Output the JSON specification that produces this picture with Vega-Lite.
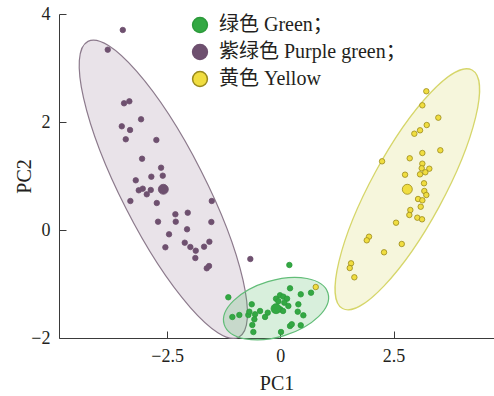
{
  "$schema": "https://vega.github.io/schema/vega-lite/v6.json",
  "width": 435,
  "height": 324,
  "autosize": {"type": "none"},
  "padding": {"left": 59, "top": 14, "right": 0, "bottom": 58},
  "background": "white",
  "config": {
    "view": {"stroke": null},
    "axis": {
      "labelFont": "Liberation Serif",
      "titleFont": "Liberation Serif",
      "labelFontSize": 18,
      "titleFontSize": 20,
      "titleFontWeight": "normal",
      "labelColor": "#231f20",
      "titleColor": "#231f20",
      "domainColor": "#3a3a3a",
      "tickColor": "#3a3a3a",
      "grid": false,
      "tickSize": -7
    },
    "legend": {
      "labelFont": "Liberation Serif, Noto Sans CJK SC",
      "labelFontSize": 20,
      "labelColor": "#231f20",
      "labelLimit": 0
    }
  },
  "data": {
    "values": [
      {"group": "紫绿色 Purple green；", "kind": "sample", "PC1": -3.481, "PC2": 3.704},
      {"group": "紫绿色 Purple green；", "kind": "sample", "PC1": -3.813, "PC2": 3.339},
      {"group": "紫绿色 Purple green；", "kind": "sample", "PC1": -3.453, "PC2": 2.346},
      {"group": "紫绿色 Purple green；", "kind": "sample", "PC1": -3.336, "PC2": 2.383},
      {"group": "紫绿色 Purple green；", "kind": "sample", "PC1": -3.077, "PC2": 2.050},
      {"group": "紫绿色 Purple green；", "kind": "sample", "PC1": -3.503, "PC2": 1.920},
      {"group": "紫绿色 Purple green；", "kind": "sample", "PC1": -3.320, "PC2": 1.852},
      {"group": "紫绿色 Purple green；", "kind": "sample", "PC1": -3.415, "PC2": 1.680},
      {"group": "紫绿色 Purple green；", "kind": "sample", "PC1": -2.739, "PC2": 1.667},
      {"group": "紫绿色 Purple green；", "kind": "sample", "PC1": -3.055, "PC2": 1.320},
      {"group": "紫绿色 Purple green；", "kind": "sample", "PC1": -2.635, "PC2": 1.154},
      {"group": "紫绿色 Purple green；", "kind": "sample", "PC1": -2.598, "PC2": 1.006},
      {"group": "紫绿色 Purple green；", "kind": "sample", "PC1": -2.850, "PC2": 0.987},
      {"group": "紫绿色 Purple green；", "kind": "sample", "PC1": -3.194, "PC2": 0.920},
      {"group": "紫绿色 Purple green；", "kind": "sample", "PC1": -3.128, "PC2": 0.735},
      {"group": "紫绿色 Purple green；", "kind": "sample", "PC1": -3.040, "PC2": 0.765},
      {"group": "紫绿色 Purple green；", "kind": "sample", "PC1": -2.863, "PC2": 0.741},
      {"group": "紫绿色 Purple green；", "kind": "sample", "PC1": -2.951, "PC2": 0.661},
      {"group": "紫绿色 Purple green；", "kind": "sample", "PC1": -3.313, "PC2": 0.537},
      {"group": "紫绿色 Purple green；", "kind": "sample", "PC1": -2.730, "PC2": 0.500},
      {"group": "紫绿色 Purple green；", "kind": "sample", "PC1": -1.515, "PC2": 0.537},
      {"group": "紫绿色 Purple green；", "kind": "sample", "PC1": -2.319, "PC2": 0.291},
      {"group": "紫绿色 Purple green；", "kind": "sample", "PC1": -2.046, "PC2": 0.320},
      {"group": "紫绿色 Purple green；", "kind": "sample", "PC1": -2.702, "PC2": 0.154},
      {"group": "紫绿色 Purple green；", "kind": "sample", "PC1": -2.311, "PC2": 0.154},
      {"group": "紫绿色 Purple green；", "kind": "sample", "PC1": -1.524, "PC2": 0.148},
      {"group": "紫绿色 Purple green；", "kind": "sample", "PC1": -2.061, "PC2": 0.013},
      {"group": "紫绿色 Purple green；", "kind": "sample", "PC1": -2.459, "PC2": -0.080},
      {"group": "紫绿色 Purple green；", "kind": "sample", "PC1": -2.540, "PC2": -0.320},
      {"group": "紫绿色 Purple green；", "kind": "sample", "PC1": -2.112, "PC2": -0.235},
      {"group": "紫绿色 Purple green；", "kind": "sample", "PC1": -1.988, "PC2": -0.315},
      {"group": "紫绿色 Purple green；", "kind": "sample", "PC1": -1.869, "PC2": -0.383},
      {"group": "紫绿色 Purple green；", "kind": "sample", "PC1": -1.685, "PC2": -0.309},
      {"group": "紫绿色 Purple green；", "kind": "sample", "PC1": -1.568, "PC2": -0.217},
      {"group": "紫绿色 Purple green；", "kind": "sample", "PC1": -1.878, "PC2": -0.519},
      {"group": "紫绿色 Purple green；", "kind": "sample", "PC1": -1.626, "PC2": -0.709},
      {"group": "紫绿色 Purple green；", "kind": "sample", "PC1": -1.575, "PC2": -0.667},
      {"group": "紫绿色 Purple green；", "kind": "sample", "PC1": -0.663, "PC2": -0.537},
      {"group": "紫绿色 Purple green；", "kind": "centroid", "PC1": -2.585, "PC2": 0.754},

      {"group": "绿色 Green；", "kind": "sample", "PC1": 0.199, "PC2": -0.648},
      {"group": "绿色 Green；", "kind": "sample", "PC1": -1.149, "PC2": -1.246},
      {"group": "绿色 Green；", "kind": "sample", "PC1": 0.214, "PC2": -1.080},
      {"group": "绿色 Green；", "kind": "sample", "PC1": 0.678, "PC2": -1.161},
      {"group": "绿色 Green；", "kind": "sample", "PC1": 0.451, "PC2": -1.191},
      {"group": "绿色 Green；", "kind": "sample", "PC1": -0.095, "PC2": -1.272},
      {"group": "绿色 Green；", "kind": "sample", "PC1": -0.007, "PC2": -1.209},
      {"group": "绿色 Green；", "kind": "sample", "PC1": 0.066, "PC2": -1.235},
      {"group": "绿色 Green；", "kind": "sample", "PC1": 0.148, "PC2": -1.272},
      {"group": "绿色 Green；", "kind": "sample", "PC1": -0.044, "PC2": -1.320},
      {"group": "绿色 Green；", "kind": "sample", "PC1": 0.088, "PC2": -1.346},
      {"group": "绿色 Green；", "kind": "sample", "PC1": 0.177, "PC2": -1.407},
      {"group": "绿色 Green；", "kind": "sample", "PC1": 0.398, "PC2": -1.376},
      {"group": "绿色 Green；", "kind": "sample", "PC1": 0.384, "PC2": -1.513},
      {"group": "绿色 Green；", "kind": "sample", "PC1": -0.632, "PC2": -1.376},
      {"group": "绿色 Green；", "kind": "sample", "PC1": -1.060, "PC2": -1.611},
      {"group": "绿色 Green；", "kind": "sample", "PC1": -0.906, "PC2": -1.574},
      {"group": "绿色 Green；", "kind": "sample", "PC1": -0.707, "PC2": -1.574},
      {"group": "绿色 Green；", "kind": "sample", "PC1": -0.685, "PC2": -1.513},
      {"group": "绿色 Green；", "kind": "sample", "PC1": -0.559, "PC2": -1.561},
      {"group": "绿色 Green；", "kind": "sample", "PC1": -0.448, "PC2": -1.500},
      {"group": "绿色 Green；", "kind": "sample", "PC1": -0.278, "PC2": -1.531},
      {"group": "绿色 Green；", "kind": "sample", "PC1": -0.338, "PC2": -1.611},
      {"group": "绿色 Green；", "kind": "sample", "PC1": -0.574, "PC2": -1.654},
      {"group": "绿色 Green；", "kind": "sample", "PC1": -0.619, "PC2": -1.759},
      {"group": "绿色 Green；", "kind": "sample", "PC1": -0.596, "PC2": -1.889},
      {"group": "绿色 Green；", "kind": "sample", "PC1": 0.015, "PC2": -1.889},
      {"group": "绿色 Green；", "kind": "sample", "PC1": 0.214, "PC2": -1.778},
      {"group": "绿色 Green；", "kind": "sample", "PC1": 0.252, "PC2": -1.746},
      {"group": "绿色 Green；", "kind": "sample", "PC1": 0.451, "PC2": -1.765},
      {"group": "绿色 Green；", "kind": "sample", "PC1": 0.508, "PC2": -1.580},
      {"group": "绿色 Green；", "kind": "sample", "PC1": 0.000, "PC2": -1.469},
      {"group": "绿色 Green；", "kind": "sample", "PC1": 0.060, "PC2": -1.500},
      {"group": "绿色 Green；", "kind": "centroid", "PC1": -0.095, "PC2": -1.457},

      {"group": "黄色 Yellow", "kind": "sample", "PC1": 0.782, "PC2": -1.056},
      {"group": "黄色 Yellow", "kind": "sample", "PC1": 3.225, "PC2": 2.569},
      {"group": "黄色 Yellow", "kind": "sample", "PC1": 3.137, "PC2": 2.309},
      {"group": "黄色 Yellow", "kind": "sample", "PC1": 3.490, "PC2": 2.080},
      {"group": "黄色 Yellow", "kind": "sample", "PC1": 3.234, "PC2": 1.944},
      {"group": "黄色 Yellow", "kind": "sample", "PC1": 3.086, "PC2": 1.846},
      {"group": "黄色 Yellow", "kind": "sample", "PC1": 2.960, "PC2": 1.783},
      {"group": "黄色 Yellow", "kind": "sample", "PC1": 3.534, "PC2": 1.476},
      {"group": "黄色 Yellow", "kind": "sample", "PC1": 3.137, "PC2": 1.426},
      {"group": "黄色 Yellow", "kind": "sample", "PC1": 2.247, "PC2": 1.272},
      {"group": "黄色 Yellow", "kind": "sample", "PC1": 2.858, "PC2": 1.328},
      {"group": "黄色 Yellow", "kind": "sample", "PC1": 3.137, "PC2": 1.228},
      {"group": "黄色 Yellow", "kind": "sample", "PC1": 3.123, "PC2": 1.143},
      {"group": "黄色 Yellow", "kind": "sample", "PC1": 3.291, "PC2": 1.135},
      {"group": "黄色 Yellow", "kind": "sample", "PC1": 3.203, "PC2": 1.069},
      {"group": "黄色 Yellow", "kind": "sample", "PC1": 3.086, "PC2": 1.031},
      {"group": "黄色 Yellow", "kind": "sample", "PC1": 2.755, "PC2": 1.024},
      {"group": "黄色 Yellow", "kind": "sample", "PC1": 3.174, "PC2": 0.865},
      {"group": "黄色 Yellow", "kind": "sample", "PC1": 3.181, "PC2": 0.722},
      {"group": "黄色 Yellow", "kind": "sample", "PC1": 3.225, "PC2": 0.648},
      {"group": "黄色 Yellow", "kind": "sample", "PC1": 3.042, "PC2": 0.574},
      {"group": "黄色 Yellow", "kind": "sample", "PC1": 3.137, "PC2": 0.550},
      {"group": "黄色 Yellow", "kind": "sample", "PC1": 3.101, "PC2": 0.431},
      {"group": "黄色 Yellow", "kind": "sample", "PC1": 2.872, "PC2": 0.370},
      {"group": "黄色 Yellow", "kind": "sample", "PC1": 2.850, "PC2": 0.278},
      {"group": "黄色 Yellow", "kind": "sample", "PC1": 3.026, "PC2": 0.228},
      {"group": "黄色 Yellow", "kind": "sample", "PC1": 3.130, "PC2": 0.198},
      {"group": "黄色 Yellow", "kind": "sample", "PC1": 2.556, "PC2": 0.135},
      {"group": "黄色 Yellow", "kind": "sample", "PC1": 1.959, "PC2": -0.124},
      {"group": "黄色 Yellow", "kind": "sample", "PC1": 1.909, "PC2": -0.191},
      {"group": "黄色 Yellow", "kind": "sample", "PC1": 2.682, "PC2": -0.259},
      {"group": "黄色 Yellow", "kind": "sample", "PC1": 2.291, "PC2": -0.413},
      {"group": "黄色 Yellow", "kind": "sample", "PC1": 1.562, "PC2": -0.617},
      {"group": "黄色 Yellow", "kind": "sample", "PC1": 1.533, "PC2": -0.704},
      {"group": "黄色 Yellow", "kind": "sample", "PC1": 1.635, "PC2": -0.876},
      {"group": "黄色 Yellow", "kind": "centroid", "PC1": 2.805, "PC2": 0.754}
    ]
  },
  "encoding": {
    "x": {
      "field": "PC1", "type": "quantitative", "title": "PC1",
      "scale": {"domain": [-4.89, 4.72], "nice": false, "zero": false},
      "axis": {"values": [-2.5, 0, 2.5], "format": ".1~f", "labelPadding": 16, "titlePadding": 8}
    },
    "y": {
      "field": "PC2", "type": "quantitative", "title": "PC2",
      "scale": {"domain": [-2, 4], "nice": false, "zero": false},
      "axis": {"values": [-2, 0, 2, 4], "format": "d", "labelPadding": 16, "titlePadding": -4}
    }
  },
  "layer": [
    {
      "transform": [{"filter": "datum.kind === 'centroid' && datum.group === '紫绿色 Purple green；'"}],
      "mark": {
        "type": "point",
        "shape": "M 1 0 C 1 0.1397 0.5523 0.253 0 0.253 C -0.5523 0.253 -1 0.1397 -1 0 C -1 -0.1397 -0.5523 -0.253 0 -0.253 C 0.5523 -0.253 1 -0.1397 1 0 Z",
        "size": 110224, "angle": 63, "filled": true, "opacity": 1,
        "fill": "#a78fa7", "fillOpacity": 0.25, "stroke": "#8c7a8c", "strokeWidth": 1.2, "strokeOpacity": 1
      }
    },
    {
      "transform": [{"filter": "datum.kind === 'centroid' && datum.group === '绿色 Green；'"}],
      "mark": {
        "type": "point",
        "shape": "M 1 0 C 1 0.2872 0.5523 0.52 0 0.52 C -0.5523 0.52 -1 0.2872 -1 0 C -1 -0.2872 -0.5523 -0.52 0 -0.52 C 0.5523 -0.52 1 -0.2872 1 0 Z",
        "size": 11751, "angle": 343.2, "filled": true, "opacity": 1,
        "fill": "#4cb860", "fillOpacity": 0.22, "stroke": "#62bd78", "strokeWidth": 1.2, "strokeOpacity": 1
      }
    },
    {
      "transform": [{"filter": "datum.kind === 'centroid' && datum.group === '黄色 Yellow'"}],
      "mark": {
        "type": "point",
        "shape": "M 1 0 C 1 0.1477 0.5523 0.2675 0 0.2675 C -0.5523 0.2675 -1 0.1477 -1 0 C -1 -0.1477 -0.5523 -0.2675 0 -0.2675 C 0.5523 -0.2675 1 -0.1477 1 0 Z",
        "size": 73658, "angle": 298.5, "filled": true, "opacity": 1,
        "fill": "#d0d050", "fillOpacity": 0.2, "stroke": "#d6d66a", "strokeWidth": 1.3, "strokeOpacity": 1
      }
    },
    {
      "transform": [{"filter": "datum.kind === 'sample'"}],
      "mark": {"type": "point", "shape": "circle", "filled": true, "opacity": 1, "size": 30, "strokeWidth": 0.8},
      "encoding": {
        "color": {
          "field": "group", "type": "nominal",
          "scale": {"domain": ["绿色 Green；", "紫绿色 Purple green；", "黄色 Yellow"], "range": ["#33a843", "#6e506f", "#f0dd40"]},
          "legend": {
            "title": null, "orient": "none", "legendX": 131, "legendY": 1, "padding": 0,
            "symbolType": "circle", "symbolSize": 220, "symbolStrokeColor": "#231f20", "symbolStrokeWidth": 1.5,
            "symbolOpacity": 1, "labelOffset": 9, "rowPadding": 5
          }
        },
        "stroke": {
          "field": "group", "type": "nominal",
          "scale": {"domain": ["绿色 Green；", "紫绿色 Purple green；", "黄色 Yellow"], "range": ["#2c9a3b", "#6e506f", "#9a8a1c"]},
          "legend": null
        }
      }
    },
    {
      "transform": [{"filter": "datum.kind === 'centroid'"}],
      "mark": {"type": "point", "shape": "circle", "filled": true, "opacity": 1, "size": 100, "strokeWidth": 0.8},
      "encoding": {
        "color": {"field": "group", "type": "nominal"},
        "stroke": {"field": "group", "type": "nominal", "legend": null}
      }
    }
  ]
}
